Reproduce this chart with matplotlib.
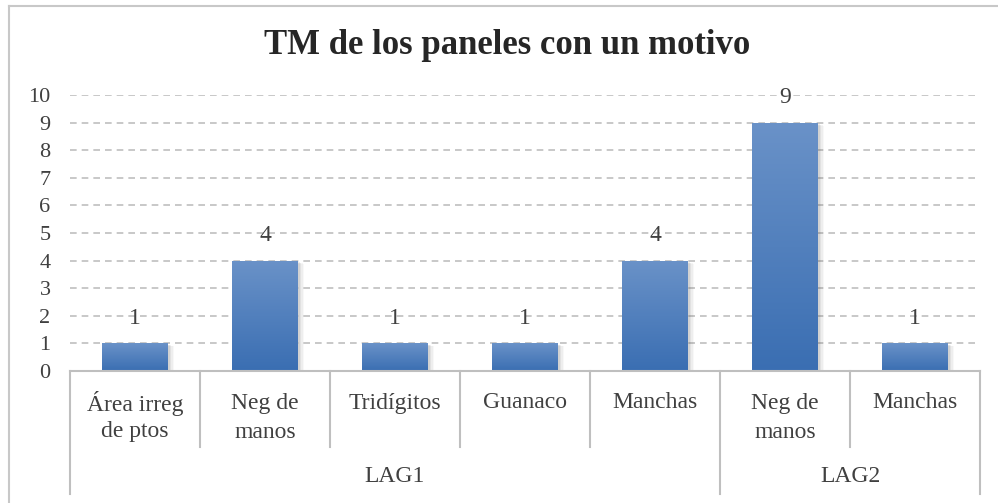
import matplotlib
matplotlib.use("Agg")
import matplotlib.pyplot as plt
import numpy as np
from matplotlib.patches import Rectangle
from matplotlib.lines import Line2D
from matplotlib.colors import LinearSegmentedColormap

categories = ["Área irreg\nde ptos", "Neg de\nmanos", "Tridígitos", "Guanaco", "Manchas", "Neg de\nmanos", "Manchas"]
groups = ["LAG1", "LAG2"]
group_sizes = [5, 2]
values = [1, 4, 1, 1, 4, 9, 1]
yticks = list(range(0, 11))

W, H = 998, 503
fig = plt.figure(figsize=(W / 100, H / 100), dpi=100)
fig.patch.set_facecolor("white")

FONT = ["Liberation Serif", "DejaVu Serif"]
TXT = "#404040"
GRID = "#bfbfbf"

left, right = 70 / W, 980 / W
bottom, top = (H - 371) / H, (H - 95) / H
ax = fig.add_axes([left, bottom, right - left, top - bottom])
n = len(categories)
ax.set_xlim(0, n)
ax.set_ylim(0, 10)
for s in ax.spines.values():
    s.set_visible(False)
ax.set_xticks([])
ax.set_yticks(yticks)
ax.set_yticklabels([str(t) for t in yticks], fontfamily=FONT, fontsize=16, color=TXT)
ax.tick_params(axis="y", length=0, pad=14)

for t in yticks[1:]:
    ax.axhline(t, color=GRID, lw=1.2, ls=(0, (4, 3)), zorder=0)

cmap = LinearSegmentedColormap.from_list("bar", [(58/255, 110/255, 178/255), (106/255, 146/255, 200/255)])
grad = np.linspace(0, 1, 256).reshape(-1, 1)
bw = 66 / 130
for i, v in enumerate(values):
    x0 = i + (1 - bw) / 2
    # shadow
    for k, a in enumerate([0.10, 0.08, 0.06, 0.04]):
        off = 0.012 + k * 0.012
        ax.add_patch(Rectangle((x0 + off, -0.05 - k * 0.02), bw, v, facecolor="#555555",
                               alpha=a, lw=0, zorder=2))
    r = Rectangle((x0, 0), bw, v, facecolor="none", lw=0, zorder=3)
    ax.add_patch(r)
    im = ax.imshow(grad, extent=(x0, x0 + bw, 0, v), origin="lower", cmap=cmap,
                   aspect="auto", zorder=3)
    im.set_clip_path(r)
    ax.text(i + 0.5, v + 0.9, str(v), ha="center", va="center", fontfamily=FONT,
            fontsize=17, color=TXT, zorder=4)
ax.set_xlim(0, n)
ax.set_ylim(0, 10)

def fx(px):
    return px / W

def fy(py):
    return (H - py) / H

fig.add_artist(Line2D([fx(70), fx(980)], [fy(371), fy(371)], color=GRID, lw=1.5))
bounds = [70 + 130 * k for k in range(n + 1)]
group_edges = [0]
for g in group_sizes:
    group_edges.append(group_edges[-1] + g)
for k, b in enumerate(bounds):
    yend = 494 if k in group_edges else 447
    fig.add_artist(Line2D([fx(b), fx(b)], [fy(371), fy(yend)], color=GRID, lw=1.5))
for i, c in enumerate(categories):
    for j, line in enumerate(c.split("\n")):
        fig.text(fx(70 + 130 * i + 65), fy(403 + 29 * j), line, ha="center", va="center",
                 fontfamily=FONT, fontsize=17, color=TXT)
for gi, g in enumerate(groups):
    cx = (bounds[group_edges[gi]] + bounds[group_edges[gi + 1]]) / 2
    fig.text(fx(cx), fy(477), g, ha="center", va="center", fontfamily=FONT,
             fontsize=17, color=TXT)

fig.text(fx(507), fy(45), "TM de los paneles con un motivo", ha="center", va="center",
         fontfamily=FONT, fontsize=25, fontweight="bold", color="#262626")

# chart border
fig.add_artist(Line2D([fx(9), fx(9)], [fy(6), fy(503)], color="#c8c8c8", lw=1.5))
fig.add_artist(Line2D([fx(9), fx(998)], [fy(6), fy(6)], color="#c8c8c8", lw=1.5))

fig.savefig("out.png", dpi=100, facecolor="white")
